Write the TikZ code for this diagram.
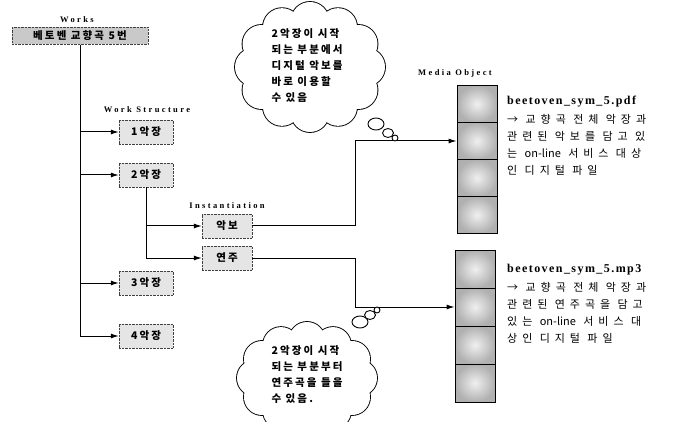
\documentclass[tikz,border=0pt]{standalone}
\usepackage{fontspec}
\setmainfont{Liberation Serif}
\newfontfamily\kr{Noto Sans CJK KR}
\newfontfamily\krbold[LetterSpace=20]{Noto Sans CJK KR}
\newfontfamily\krwide[LetterSpace=45]{Noto Sans CJK KR}
\newfontfamily\lbl[LetterSpace=28]{Liberation Serif}
\newfontfamily\ttl[LetterSpace=12]{Liberation Serif}
\usetikzlibrary{arrows.meta,positioning}

\tikzset{
  partbox/.style={draw=black!75, densely dotted, fill=gray!20, inner sep=2pt,
    font=\krbold\bfseries\fontsize{10.5}{12}\selectfont, minimum width=54pt, minimum height=24pt},
  layer/.style={font=\lbl\bfseries\fontsize{8.5}{10}\selectfont},
  arr/.style={-{Latex[length=8pt,width=5pt]}, line width=1pt},
  cell/.style={draw, line width=0.9pt, minimum width=40pt, inner sep=0pt,
    shading=radial, inner color=gray!12, outer color=gray!62},
  thought/.style={align=left, inner sep=0pt, font=\krbold\bfseries\fontsize{10.5}{16}\selectfont},
  tail/.style={line width=0.9pt, fill=white},
  fname/.style={anchor=west, inner sep=0pt, font=\ttl\bfseries\fontsize{12}{14}\selectfont},
  fnote/.style={anchor=north west, inner sep=0pt, align=left, font=\krwide\fontsize{11}{17}\selectfont},
}

\begin{document}
\begin{tikzpicture}[x=1pt, y=-1pt]
    \useasboundingbox (0,0) rectangle (680,422);

    % Works
    \node[layer] at (77,20) {Works};
    \node[partbox, fill=gray!42, minimum width=136pt, minimum height=17pt] (works) at (80,36) {베토벤 교향곡 5번};

    % Work Structure
    \node[layer] at (147,110) {Work Structure};
    \node[partbox] (m1) at (146,132) {1악장};
    \node[partbox] (m2) at (146,175) {2악장};
    \node[partbox] (m3) at (146,283) {3악장};
    \node[partbox] (m4) at (146,336) {4악장};

    % Instantiation
    \node[layer] at (227,206) {Instantiation};
    \node[partbox, minimum width=50pt] (score) at (227,226) {악보};
    \node[partbox, minimum width=50pt] (perf) at (227,258) {연주};

    % Media Object
    \node[layer] at (455,73) {Media Object};
    \foreach \i in {1,...,4} {
        \node[cell, minimum height=37pt] (pdf\i) at (477,67+37*\i) {};
        \node[cell, minimum height=38pt] (mp\i) at (475,231+38*\i) {};
    }

    % tree
    \draw[arr] (works.south) |- (m1.west);
    \draw[arr] (works.south) |- (m2.west);
    \draw[arr] (works.south) |- (m3.west);
    \draw[arr] (works.south) |- (m4.west);
    \draw[arr] (m2.south) |- (score.west);
    \draw[arr] (m2.south) |- (perf.west);

    \coordinate (turn) at (355,0);
    \draw[arr] (score.east) -| (turn |- pdf2.west) -- (pdf2.west);
    \draw[arr] (perf.east) -| (turn |- mp2.west) -- (mp2.west);

    % file descriptions
    \node[fname] (pdfname) at (507,102) {beetoven\_sym\_5.pdf};
    \node[fnote, below=6pt of pdfname.south west, anchor=north west] (pdfnote)
        {→ 교향곡 전체 악장과\\관련된 악보를 담고 있\\는 {\kr on-line} 서비스 대상\\인 디지털 파일};
    \node[fname] (mpname) at (507,270) {beetoven\_sym\_5.mp3};
    \node[fnote, below=6pt of mpname.south west, anchor=north west] (mpnote)
        {→ 교향곡 전체 악장과\\관련된 연주곡을 담고\\있는 {\kr on-line} 서비스 대\\상인 디지털 파일};

    % thought clouds (puffs round an ellipse)
    \begin{scope}[shift={(310,67)}]
        \foreach \t in {0,30,...,330}
            \draw[line width=1.8pt] ({56*cos(\t)},{46*sin(\t)}) circle (19);
        \foreach \t in {0,30,...,330}
            \fill[white] ({56*cos(\t)},{46*sin(\t)}) circle (19);
        \fill[white] (0,0) ellipse (56 and 46);
    \end{scope}
    \node[thought] (note1) at (307,66)
        {2악장이 시작\\되는 부분에서\\디지털 악보를\\바로 이용할\\수 있음};
    \draw[tail] (376,124) ellipse (8 and 6);
    \draw[tail] (388,133) ellipse (5.5 and 4.5);
    \draw[tail] (395,138) circle (3);

    \begin{scope}[shift={(307,378)}]
        \foreach \t in {0,30,...,330}
            \draw[line width=1.8pt] ({52*cos(\t)},{38*sin(\t)}) circle (18);
        \foreach \t in {0,30,...,330}
            \fill[white] ({52*cos(\t)},{38*sin(\t)}) circle (18);
        \fill[white] (0,0) ellipse (52 and 38);
    \end{scope}
    \node[thought] (note2) at (307,375)
        {2악장이 시작\\되는 부분부터\\연주곡을 들을\\수 있음.};
    \draw[tail] (360,322) ellipse (8 and 6);
    \draw[tail] (370,315) ellipse (5.5 and 4.5);
    \draw[tail] (377,310) circle (3);
\end{tikzpicture}
\end{document}
